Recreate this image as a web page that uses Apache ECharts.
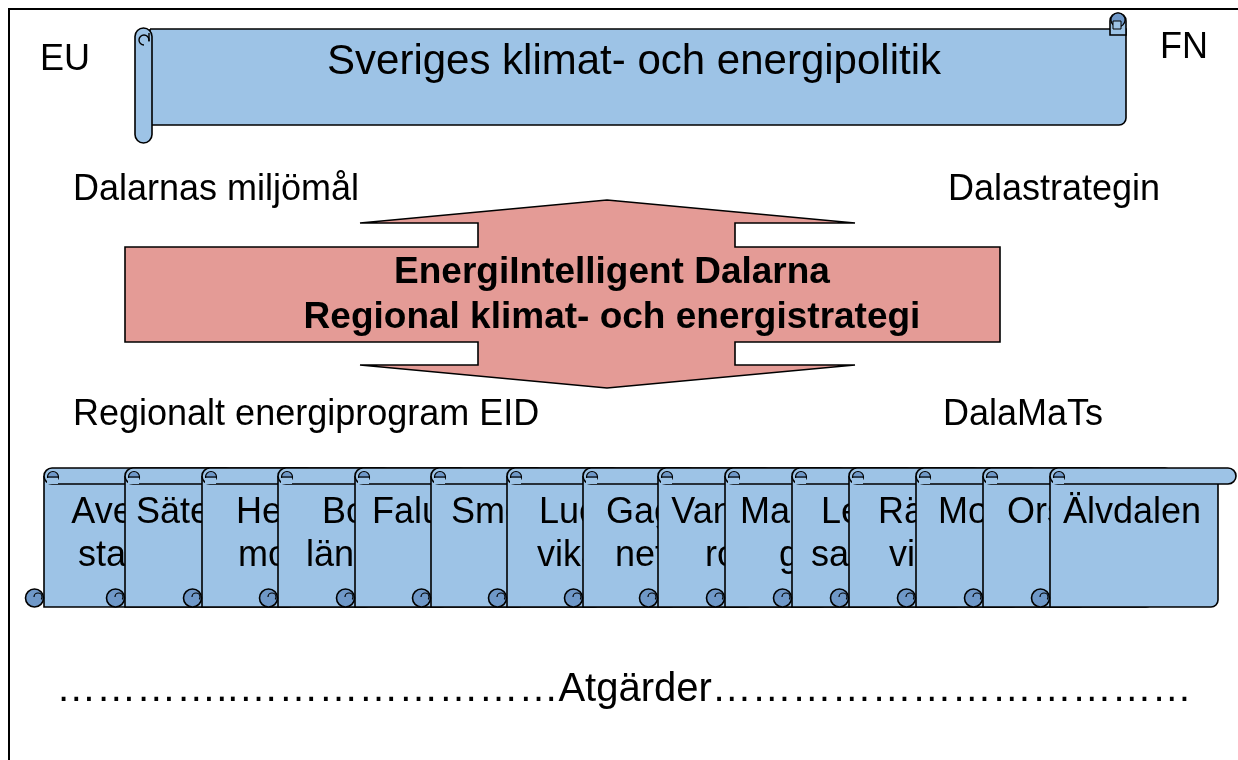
<!DOCTYPE html>
<html>
<head>
<meta charset="utf-8">
<title>Sveriges klimat- och energipolitik</title>
<script src="https://cdn.jsdelivr.net/npm/echarts@6/dist/echarts.min.js"></script>
<style>
  html, body { margin: 0; padding: 0; background: #fff; }
  #main { width: 1238px; height: 760px; }
</style>
</head>
<body>
<div id="main"></div>
<script>
// texter i diagrammet
const titleText = 'Sveriges klimat- och energipolitik';
const cornerLabels = ['EU', 'FN'];
const upperLabels = ['Dalarnas miljömål', 'Dalastrategin'];
const lowerLabels = ['Regionalt energiprogram EID', 'DalaMaTs'];
const arrowLines = ['EnergiIntelligent Dalarna', 'Regional klimat- och energistrategi'];
const actionText = ['…………..……………………', 'Atgärder', '………………………………'];

// kommunerna, en rulle per kommun
const municipalities = ['Avesta', 'Säter', 'Hedemora', 'Borlänge', 'Falun', 'Smedjebacken',
  'Ludvika', 'Gagnef', 'Vansbro', 'Malung', 'Leksand', 'Rättvik', 'Mora', 'Orsa', 'Älvdalen'];
// antal tecken på första raden (0 = en rad)
const lineBreakAt = [3, 0, 4, 3, 0, 0, 3, 3, 5, 5, 3, 4, 0, 0, 0];

// layout (pixlar)
const scrollLeft = [44, 125, 202, 278, 355, 431, 507, 583, 658, 725, 792, 849, 916, 983, 1050];
const scrollTextX = [102, 179, 279, 350, 417, 570, 569, 640, 721, 789, 850, 911, 979, 1046, 1132];

const LIGHT = '#9dc3e6';
const DARK = '#6f98c8';
const PINK = '#e49b96';
const FONT = '"Liberation Sans", Arial, sans-serif';

const chart = echarts.init(document.getElementById('main'));

function label(text, x, y, size, align, weight) {
  return {
    type: 'text',
    z: 10,
    style: {
      text: text,
      x: x,
      y: y,
      fill: '#000',
      fontSize: size,
      fontFamily: FONT,
      fontWeight: weight || 'normal',
      align: align || 'left',
      verticalAlign: 'middle'
    }
  };
}

/**
 * Ritar en lodrät rulle med kommunnamn
 */
function renderScroll(params, api) {
  const i = api.value(0);
  const last = i === municipalities.length - 1;
  const topLeft = api.coord([scrollLeft[i], 468]);
  const L = topLeft[0];
  const T = topLeft[1];
  const B = api.coord([0, 607])[1];
  const R = last ? api.coord([1218, 0])[0] : L + 170;
  const Rend = last ? api.coord([1236, 0])[0] : L + 190;
  const line = { stroke: '#000', lineWidth: 1.6 };

  const name = municipalities[i];
  const cut = lineBreakAt[i];
  const lines = cut ? [name.slice(0, cut), name.slice(cut)] : [name];
  const cx = api.coord([scrollTextX[i], 0])[0];

  const children = [
    {
      type: 'rect',
      shape: { x: L, y: T + 8, width: R - L, height: B - T - 8, r: [0, 0, 7, 0] },
      style: Object.assign({ fill: LIGHT }, line)
    },
    {
      type: 'rect',
      shape: { x: L, y: T, width: Rend - L, height: 16, r: 8 },
      style: Object.assign({ fill: LIGHT }, line)
    },
    {
      type: 'circle',
      shape: { cx: L + 9, cy: T + 9, r: 5.5 },
      style: Object.assign({ fill: DARK }, line, { lineWidth: 1.2 })
    },
    {
      type: 'rect',
      shape: { x: L + 3, y: T + 10, width: 11, height: 6 },
      style: { fill: LIGHT }
    },
    {
      type: 'line',
      shape: { x1: L + 3, y1: T + 9, x2: L + 14, y2: T + 9 },
      style: { stroke: '#000', lineWidth: 1.2 }
    },
    {
      type: 'circle',
      shape: { cx: L - 9.5, cy: B - 9, r: 9 },
      style: Object.assign({ fill: DARK }, line)
    },
    {
      type: 'arc',
      shape: { cx: L - 6, cy: B - 10, r: 4, startAngle: Math.PI, endAngle: Math.PI * 2.2 },
      style: { fill: null, stroke: '#000', lineWidth: 1.2 }
    }
  ];
  lines.forEach(function (t, k) {
    children.push({
      type: 'text',
      style: {
        text: t,
        x: cx,
        y: 513 + k * 43,
        fill: '#000',
        fontSize: 36,
        fontFamily: FONT,
        align: 'center',
        verticalAlign: 'middle'
      }
    });
  });
  return { type: 'group', children: children };
}

// pilen i mitten
const arrowPoints = [[607, 200], [855, 223], [735, 223], [735, 247], [1000, 247], [1000, 342],
  [735, 342], [735, 365], [855, 365], [607, 388], [360, 365], [478, 365], [478, 342],
  [125, 342], [125, 247], [478, 247], [478, 223], [360, 223]];

const graphics = [
  // ram
  {
    type: 'polyline',
    shape: { points: [[9, 760], [9, 9], [1238, 9]] },
    style: { stroke: '#000', lineWidth: 2, fill: null }
  },
  // banderoll överst
  {
    type: 'rect',
    shape: { x: 150, y: 29, width: 976, height: 96, r: [0, 0, 7, 0] },
    style: { fill: LIGHT, stroke: '#000', lineWidth: 1.6 }
  },
  {
    type: 'rect',
    shape: { x: 1110, y: 13, width: 16, height: 22, r: [8, 8, 0, 0] },
    style: { fill: LIGHT, stroke: '#000', lineWidth: 1.6 }
  },
  {
    type: 'circle',
    shape: { cx: 1118, cy: 20, r: 7 },
    style: { fill: DARK, stroke: '#000', lineWidth: 1.2 }
  },
  {
    type: 'rect',
    shape: { x: 1113, y: 21, width: 8, height: 8 },
    style: { fill: LIGHT, stroke: '#000', lineWidth: 1 }
  },
  {
    type: 'rect',
    shape: { x: 135, y: 28, width: 17, height: 115, r: 8.5 },
    style: { fill: LIGHT, stroke: '#000', lineWidth: 1.6 }
  },
  {
    type: 'arc',
    shape: { cx: 144, cy: 40, r: 5, startAngle: Math.PI * 0.5, endAngle: Math.PI * 2.1 },
    style: { fill: null, stroke: '#000', lineWidth: 1.4 }
  },
  {
    type: 'line',
    shape: { x1: 149, y1: 41, x2: 149, y2: 33 },
    style: { stroke: '#000', lineWidth: 1.4 }
  },
  label(titleText, 634, 62, 42, 'center'),
  label(cornerLabels[0], 40, 60, 36),
  label(cornerLabels[1], 1160, 48, 36),
  label(upperLabels[0], 73, 190, 36),
  label(upperLabels[1], 1160, 190, 36, 'right'),
  // dubbelpil
  {
    type: 'polygon',
    shape: { points: arrowPoints },
    style: { fill: PINK, stroke: '#000', lineWidth: 1.6 }
  },
  label(arrowLines[0], 612, 273, 37, 'center', 'bold'),
  label(arrowLines[1], 612, 318, 37, 'center', 'bold'),
  label(lowerLabels[0], 73, 415, 36),
  label(lowerLabels[1], 1103, 415, 36, 'right'),
  label(actionText.join(''), 624, 690, 40, 'center')
];

const option = {
  animation: false,
  grid: { left: 0, right: 0, top: 0, bottom: 0 },
  xAxis: { type: 'value', min: 0, max: 1238, show: false },
  yAxis: { type: 'value', min: 0, max: 760, inverse: true, show: false },
  graphic: graphics,
  series: [{
    type: 'custom',
    clip: false,
    renderItem: renderScroll,
    data: municipalities.map(function (name, i) { return [i]; })
  }]
};

chart.setOption(option);
</script>
</body>
</html>
